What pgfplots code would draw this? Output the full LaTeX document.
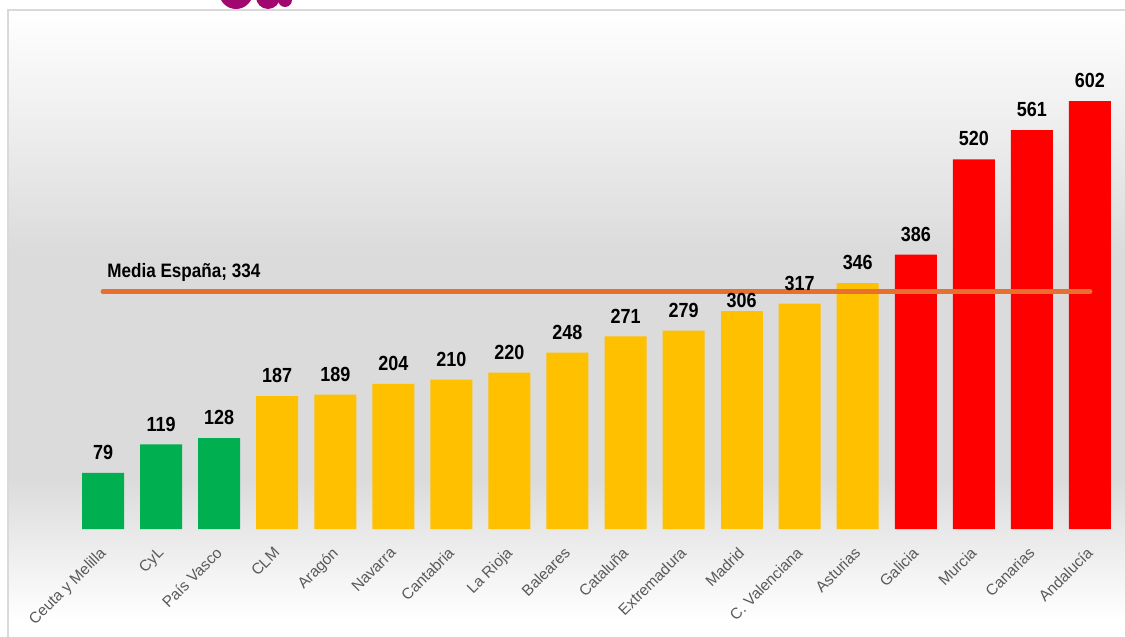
\documentclass[border=0pt]{standalone}
\usepackage{fontspec}
\setmainfont{Liberation Sans}
\newfontfamily\narrow[FakeStretch=0.88]{Liberation Sans}
\usepackage{pgfplots}
\pgfplotsset{compat=1.18}

\definecolor{cgreen}{HTML}{00B050}
\definecolor{cyellow}{HTML}{FFC000}
\definecolor{cred}{HTML}{FF0000}
\definecolor{cline}{HTML}{E8702E}
\definecolor{ctick}{HTML}{595959}
\definecolor{cframe}{HTML}{D9D9D9}
\definecolor{clogo}{HTML}{A0086F}

\begin{document}
\begin{tikzpicture}
\useasboundingbox (0,0) rectangle (1125bp,637bp);
% background
\shade[top color=white, bottom color=black!14] (8bp,387bp) rectangle (1125bp,627bp);
\fill[black!14] (8bp,157bp) rectangle (1125bp,387bp);
\shade[top color=black!14, bottom color=white] (8bp,17bp) rectangle (1125bp,157bp);
\fill[white] (8bp,0bp) rectangle (1125bp,17bp);
% cropped logo
\fill[clogo] (236bp,645bp) circle (17bp);
\fill[clogo] (268bp,640bp) circle (12bp);
\fill[clogo] (285bp,637bp) circle (7bp);
\draw[cframe, line width=1.2bp] (8bp,-5bp) -- (8bp,627bp) -- (1130bp,627bp);

\begin{axis}[
  at={(45bp,108bp)}, anchor=south west,
  scale only axis,
  width=1074bp, height=455bp,
  xmin=-1, xmax=17.5,
  ymin=0, ymax=640,
  clip=false,
  axis line style={draw=none},
  tick style={draw=none},
  ytick=\empty,
  xtick={0,...,17},
  xticklabels={Ceuta y Melilla, CyL, País Vasco, CLM, Aragón, Navarra, Cantabria, La Rioja, Baleares, Cataluña, Extremadura, Madrid, C. Valenciana, Asturias, Galicia, Murcia, Canarias, Andalucía},
  xticklabel style={rotate=45, anchor=north east, text=ctick, font=\fontsize{15.5}{17}\selectfont, inner sep=0pt, xshift=-12bp, yshift=-6bp},
  ybar, bar width=42bp, bar shift=0pt,
  nodes near coords={\pgfmathprintnumber[assume math mode=true]{\pgfplotspointmeta}},
  every node near coord/.append style={font=\narrow\bfseries\fontsize{20.5}{22}\selectfont, text=black, anchor=south, inner sep=0pt, yshift=13bp},
]
\addplot[fill=cgreen, draw=none] coordinates {(0,79) (1,119) (2,128)};
\addplot[fill=cyellow, draw=none] coordinates {(3,187) (4,189) (5,204) (6,210) (7,220) (8,248) (9,271) (10,279) (12,317) (13,346)};
\addplot[fill=cyellow, draw=none, every node near coord/.append style={yshift=-9bp}] coordinates {(11,306)};
\addplot[fill=cred, draw=none] coordinates {(14,386) (15,520) (16,561) (17,602)};
\addplot[sharp plot, draw=cline, line width=5bp, line cap=round, nodes near coords={}, forget plot] coordinates {(0,334) (17,334)};
\node[anchor=base west, inner sep=0pt, font=\narrow\bfseries\fontsize{19.5}{21}\selectfont] at (axis cs:0.07,354) {Media España; 334};
\end{axis}
\end{tikzpicture}
\end{document}
